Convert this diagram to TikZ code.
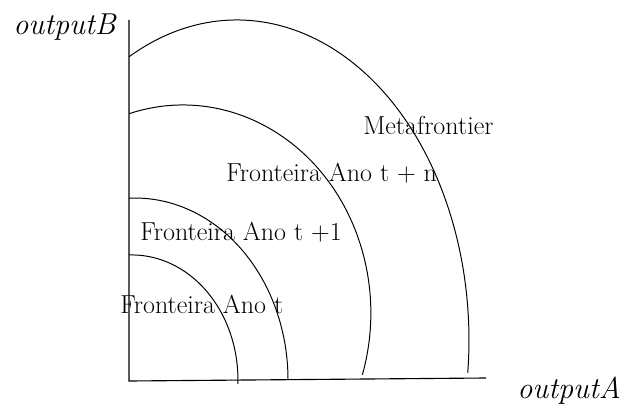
\documentclass[tikz,border=0pt]{standalone}
\usepackage{amsmath}
\usetikzlibrary{positioning,calc}

\begin{document}
\begin{tikzpicture}[
  font=\fontsize{18.5}{21}\selectfont,
  axis/.style={draw=black,line width=0.8pt},
  frontier/.style={draw=black,line width=0.7pt},
  tag/.style={inner sep=0pt,anchor=base west},
  axistag/.style={tag,font=\fontsize{21.5}{24}\selectfont\itshape}]
\useasboundingbox (-3.225,-0.775) rectangle (12.45,9.525);

\coordinate (origin) at (0,0);
\coordinate (ytop) at (0,9.025);
\coordinate (xend) at (8.925,0.075);
\draw[axis] (ytop)--(origin)--(xend);

\node[axistag] (outb) at (-2.9,8.65) {outputB};
\node[axistag] (outa) at (9.7,-0.425) {outputA};

% frontiers, inner to outer
\coordinate (f0) at (0,3.15);
\coordinate (f1) at (0,4.571);
\coordinate (fn) at (0,6.682);
\coordinate (meta) at (0,8.105);
\draw[frontier] (f0) arc[start angle=91.6,end angle=-1.8,x radius=2.65,y radius=3.125];
\draw[frontier] (f1) arc[start angle=92.25,end angle=0,x radius=3.825,y radius=4.55];
\draw[frontier] (fn) arc[start angle=106.65,end angle=-17.3,x radius=4.7,y radius=5.2];
\draw[frontier] (meta) arc[start angle=117.74,end angle=-5.9,x radius=5.8,y radius=8];

\node[tag] (t0) at (-0.225,1.7) {Fronteira Ano t};
\node[tag] (t1) at (0.275,3.525) {Fronteira Ano t +1};
\node[tag] (tn) at (2.425,4.975) {Fronteira Ano t + n};
\node[tag] (mf) at (5.85,6.15) {Metafrontier};
\end{tikzpicture}
\end{document}
